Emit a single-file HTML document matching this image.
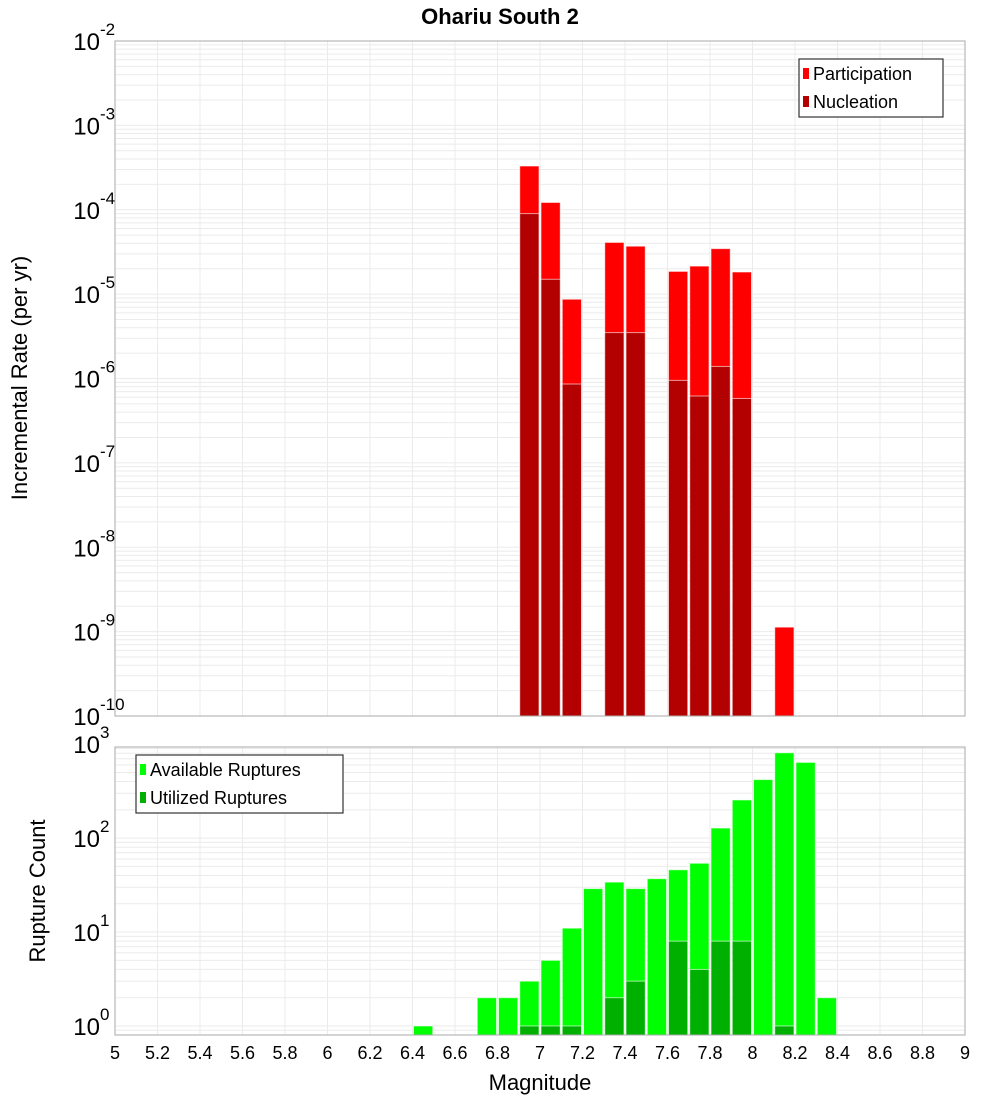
<!DOCTYPE html>
<html><head><meta charset="utf-8"><style>
body{margin:0;background:#fff}
svg{display:block;font-family:"Liberation Sans","DejaVu Sans",sans-serif}
</style></head><body>
<svg id="c" width="1000" height="1100" xmlns="http://www.w3.org/2000/svg">
<text x="500" y="24" text-anchor="middle" font-size="22" font-weight="bold">Ohariu South 2</text>
<g id="top"></g>
<g id="bot"></g>
<text transform="translate(27,378) rotate(-90)" text-anchor="middle" font-size="22">Incremental Rate (per yr)</text>
<text transform="translate(45,891) rotate(-90)" text-anchor="middle" font-size="22">Rupture Count</text>
<text x="540" y="1090" text-anchor="middle" font-size="22">Magnitude</text>
</svg>
<script>
const rateMags=[6.95,7.05,7.15,7.35,7.45,7.65,7.75,7.85,7.95,8.15];
const participation=[3.3e-4,1.22e-4,8.7e-6,4.1e-5,3.7e-5,1.86e-5,2.15e-5,3.46e-5,1.83e-5,1.13e-9];
const nucleation=[9.0e-5,1.5e-5,8.6e-7,3.5e-6,3.5e-6,9.5e-7,6.2e-7,1.39e-6,5.8e-7,0];
const countMags=[6.45,6.75,6.85,6.95,7.05,7.15,7.25,7.35,7.45,7.55,7.65,7.75,7.85,7.95,8.05,8.15,8.25,8.35];
const available=[1,2,2,3,5,11,29,34,29,37,46,54,128,255,420,810,640,2];
const utilized=[0,0,0,1,1,1,0,2,3,0,8,4,8,8,0,1,0,0];
const xTicks=[5,5.2,5.4,5.6,5.8,6,6.2,6.4,6.6,6.8,7,7.2,7.4,7.6,7.8,8,8.2,8.4,8.6,8.8,9];
const topExps=[-2,-3,-4,-5,-6,-7,-8,-9,-10];
const botExps=[0,1,2,3];

const NS="http://www.w3.org/2000/svg";
const X0=115,X1=965;
const xs=m=>X0+(m-5)/4*(X1-X0);
const T={y0:41,y1:716,lmin:-10,lmax:-2};
const B={y0:747,y1:1035,lmin:-0.096,lmax:2.97};
const ysT=v=>T.y1-(Math.log10(v)-T.lmin)/(T.lmax-T.lmin)*(T.y1-T.y0);
const ysB=v=>B.y1-(Math.log10(v)-B.lmin)/(B.lmax-B.lmin)*(B.y1-B.y0);
function el(p,tag,a){const e=document.createElementNS(NS,tag);for(const k in a)e.setAttribute(k,a[k]);p.appendChild(e);return e;}

function grid(g,P,ys){
  for(let d=Math.floor(P.lmin);d<=Math.ceil(P.lmax);d++)for(let k=1;k<10;k++){
    const v=k*Math.pow(10,d);const l=Math.log10(v);if(l<P.lmin||l>P.lmax)continue;const y=ys(v);
    const ln=el(g,'line',{x1:X0,x2:X1,y1:y,y2:y,stroke:'#ebebeb','stroke-width':1});
    
    
  }
  xTicks.forEach(t=>{const ln=el(g,'line',{x1:xs(t),x2:xs(t),y1:P.y0,y2:P.y1,stroke:'#ebebeb','stroke-width':1});
    
    });
}
function bars(g,mags,vals,ys,P,fill,nm){
  const w=(X1-X0)/40;
  mags.forEach((m,i)=>{if(!(vals[i]>0))return;const y=ys(vals[i]);
    const r=el(g,'rect',{x:xs(m)-w/2+1,y:y,width:w-2,height:P.y1-y,fill:fill,stroke:'rgba(255,255,255,0.6)','stroke-width':1});
    
    });
}
function frame(g,P){const r=el(g,'rect',{x:X0,y:P.y0,width:X1-X0,height:P.y1-P.y0,fill:'none',stroke:'#aaa','stroke-width':1});
  
  }
function ylab(g,e,y,name){const t=el(g,'text',{x:100,y:y+9,'text-anchor':'end','font-size':24});t.textContent='10';
  
  
  const s=el(g,'text',{x:100,y:y-6,'font-size':17});s.textContent=String(e);
  
  }
function legend(g,x,y,w,items){const r=el(g,'rect',{x:x,y:y,width:w,height:58,fill:'#fff',stroke:'#333','stroke-width':1.2});
  
  
  items.forEach((it,i)=>{const sw=el(g,'rect',{x:x+4,y:y+9+i*28,width:6,height:11,fill:it[1]});
    
    
    const t=el(g,'text',{x:x+14,y:y+21+i*28,'font-size':18});t.textContent=it[0];
    
    });}

const gt=document.getElementById('top');
el(gt,'rect',{x:X0,y:T.y0,width:X1-X0,height:T.y1-T.y0,fill:'#fff'});
grid(gt,T,ysT);
bars(gt,rateMags,participation,ysT,T,'#ff0000','participation-bar');
bars(gt,rateMags,nucleation,ysT,T,'#b30000','nucleation-bar');
frame(gt,T);
topExps.forEach(e=>ylab(gt,e,ysT(Math.pow(10,e)),'y-tick-rate'));
legend(gt,799,59,144,[['Participation','#ff0000'],['Nucleation','#b30000']]);

const gb=document.getElementById('bot');
grid(gb,B,ysB);
bars(gb,countMags,available,ysB,B,'#00ff00','available-bar');
bars(gb,countMags,utilized,ysB,B,'#00b000','utilized-bar');
frame(gb,B);
botExps.forEach(e=>ylab(gb,e,ysB(Math.pow(10,e)),'y-tick-count'));
legend(gb,136,755,207,[['Available Ruptures','#00ff00'],['Utilized Ruptures','#00b000']]);
xTicks.forEach(t=>{const tx=el(gb,'text',{x:xs(t),y:1059,'text-anchor':'middle','font-size':18});tx.textContent=String(t);
  
  });
</script>
</body></html>
